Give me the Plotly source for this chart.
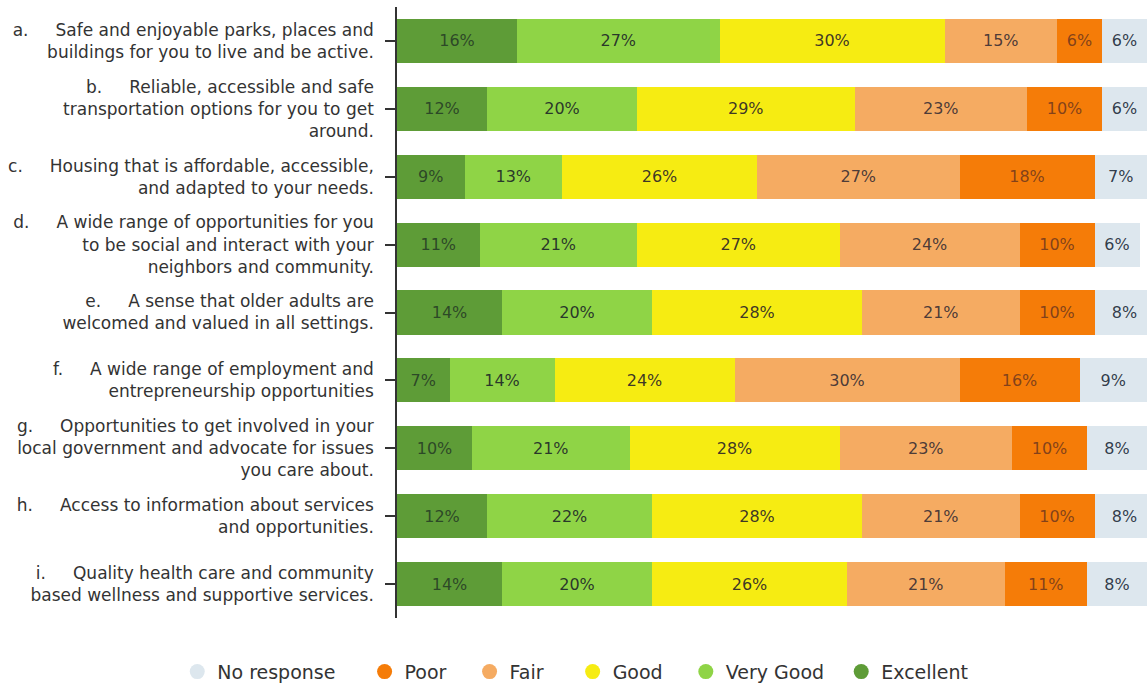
import plotly.graph_objects as go

NB = "\u00a0"
GAP = NB * 5

categories = [
    "a." + GAP + "Safe and enjoyable parks, places and<br>buildings for you to live and be active.",
    "b." + GAP + "Reliable, accessible and safe<br>transportation options for you to get<br>around.",
    "c." + GAP + "Housing that is affordable, accessible,<br>and adapted to your needs.",
    "d." + GAP + "A wide range of opportunities for you<br>to be social and interact with your<br>neighbors and community.",
    "e." + GAP + "A sense that older adults are<br>welcomed and valued in all settings.",
    "f." + GAP + "A wide range of employment and<br>entrepreneurship opportunities",
    "g." + GAP + "Opportunities to get involved in your<br>local government and advocate for issues<br>you care about.",
    "h." + GAP + "Access to information about services<br>and opportunities.",
    "i." + GAP + "Quality health care and community<br>based wellness and supportive services.",
]

excellent = [16, 12, 9, 11, 14, 7, 10, 12, 14]
very_good = [27, 20, 13, 21, 20, 14, 21, 22, 20]
good = [30, 29, 26, 27, 28, 24, 28, 28, 26]
fair = [15, 23, 27, 24, 21, 30, 23, 21, 21]
poor = [6, 10, 18, 10, 10, 16, 10, 10, 11]
no_response = [6, 6, 7, 6, 8, 9, 8, 8, 8]

series_names = ["Excellent", "Very Good", "Good", "Fair", "Poor", "No response"]
series_values = [excellent, very_good, good, fair, poor, no_response]
colors = ["#5e9c37", "#8fd446", "#f6ec12", "#f5ab62", "#f57c08", "#dde7ee"]
text_colors = ["rgba(30,50,35,0.8)", "rgba(30,40,40,0.92)", "rgba(45,38,40,0.92)",
               "rgba(55,45,50,0.9)", "rgba(110,55,30,0.85)", "rgba(40,50,65,0.95)"]

FONT = "DejaVu Sans"

fig = go.Figure()
for name, vals, col, tcol in zip(series_names, series_values, colors, text_colors):
    fig.add_trace(go.Bar(
        y=categories, x=vals, name=name, orientation="h",
        marker=dict(color=col, line=dict(width=0)),
        texttemplate="%{x}%", textposition="inside", insidetextanchor="middle",
        constraintext="none", textangle=0,
        textfont=dict(family=FONT, size=16, color=tcol),
        showlegend=False,
    ))

legend_pad = {"No response": 4, "Poor": 3, "Fair": 4, "Good": 3, "Very Good": 2, "Excellent": 0}
for name, col in zip(series_names[::-1], colors[::-1]):
    fig.add_trace(go.Scatter(
        x=[None], y=[None], mode="markers", name=name + NB * legend_pad[name],
        marker=dict(color=col, size=15, symbol="circle"),
        showlegend=True,
    ))

fig.update_layout(
    barmode="stack",
    bargap=0.35,
    width=1147, height=685,
    margin=dict(l=397, r=0, t=7, b=67, autoexpand=False),
    paper_bgcolor="white", plot_bgcolor="white",
    font=dict(family=FONT, color="#333333"),
    legend=dict(
        orientation="h", xref="paper", yref="paper",
        x=-0.293, xanchor="left", y=-0.088, yanchor="middle",
        font=dict(family=FONT, size=19, color="#333333"),
        traceorder="normal",
    ),
)
fig.update_xaxes(range=[0, 100], showgrid=False, zeroline=False,
                 showticklabels=False, showline=False, fixedrange=True)
fig.update_yaxes(autorange="reversed", showgrid=False, zeroline=False,
                 showline=True, linecolor="#333333", linewidth=1.5,
                 ticks="outside", ticklen=10, tickcolor="#333333", tickwidth=1.5,
                 ticklabelstandoff=8,
                 tickfont=dict(family=FONT, size=17, color="#333333"))

fig.write_html(
    "out.html",
    config={"displayModeBar": False},
    post_script="document.body.style.margin='0';document.body.style.overflow='hidden';",
)
